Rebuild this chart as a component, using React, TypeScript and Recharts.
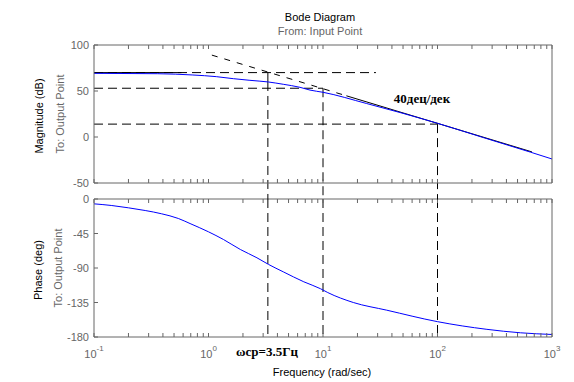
import { LineChart, Line, XAxis, YAxis, ReferenceLine } from "recharts";

// blue curves
const magFreq = [0.1, 0.36, 0.73, 1.17, 1.65, 2.3, 3.33, 4.5, 6.3, 7.7, 10, 24, 47, 100, 251, 646, 1000];
const magDb = [69.2, 68.8, 67.4, 65.6, 63.4, 61.6, 59.8, 57.3, 54, 51, 48.6, 36.4, 26.6, 14.9, -0.6, -16.4, -23.9];

const phaseFreq = [0.1, 0.143, 0.2, 0.28, 0.39, 0.545, 0.69, 1, 1.35, 1.9, 2.65, 3.35, 4.5, 6.8, 9.5, 11, 18.4, 36, 100, 270, 530, 1000];
const phaseDeg = [-6.3, -8.5, -11.5, -15, -19.3, -25.4, -32, -42.8, -52.8, -65.9, -76.7, -85.4, -95, -108, -117, -122, -135, -145, -160, -170, -174.5, -176.7];

// axes
const decades = [0.1, 1, 10, 100, 1000];
const decadeExp = ["-1", "0", "1", "2", "3"];
const minorMult = [2, 3, 4, 5, 6, 7, 8, 9];
const magTicks = [-50, 0, 50, 100];
const phaseTicks = [-180, -135, -90, -45, 0];

// hand-drawn construction lines (data units)
const lowAsym = 70;
const crossFreq = 3.3;
const crossDb = 59.8;
const midLevel = 53;
const lowLevel = 14;
const slopeStart = { x: 1.07, y: 89 };
const slopeMid = { x: 16, y: 44.8 };
const slopeEnd = { x: 668, y: -16.2 };

const AXIS = "#666666";
const LABEL = "#666666";
const TICK = 4;
const SANS = "'Liberation Sans', Arial, sans-serif";
const SERIF = "'Liberation Serif', 'Times New Roman', serif";

const xTicks = decades.slice(0, 4).flatMap((d) => [d, ...minorMult.map((m) => d * m)]).concat([1000]);
const isDecade = (v: number) => decades.findIndex((d) => Math.abs(d - v) < 1e-9);

const magData = magFreq.map((f, i) => ({ f, v: magDb[i] }));
const phaseData = phaseFreq.map((f, i) => ({ f, v: phaseDeg[i] }));

const BottomTick = (props: any) => {
  const { x, y, payload, labels } = props;
  const i = isDecade(payload.value);
  return (
    <g>
      <line x1={x} y1={y} x2={x} y2={y - TICK} stroke={AXIS} />
      {labels && i >= 0 && (
        <text x={x} y={y + 20.5} textAnchor="middle" fontFamily={SANS} fontSize={11} fill={LABEL}>
          <tspan>10</tspan>
          <tspan fontSize={8} dy={-7}>{decadeExp[i]}</tspan>
        </text>
      )}
    </g>
  );
};

const TopTick = (props: any) => {
  const { x, y } = props;
  return <line x1={x} y1={y} x2={x} y2={y + TICK} stroke={AXIS} />;
};

const LeftTick = (props: any) => {
  const { x, y, payload } = props;
  return (
    <g>
      <line x1={x} y1={y} x2={x + TICK} y2={y} stroke={AXIS} />
      <text x={x - 5} y={y} textAnchor="end" dominantBaseline="central" fontFamily={SANS} fontSize={11} fill={LABEL}>
        {payload.value}
      </text>
    </g>
  );
};

const RightTick = (props: any) => {
  const { x, y } = props;
  return <line x1={x} y1={y} x2={x - TICK} y2={y} stroke={AXIS} />;
};

const XAXH = 20;
const YAXW = 40;

function Panel({
  data,
  domain,
  yTicks,
  top,
  bottom,
  labels,
  children,
}: {
  data: { f: number; v: number }[];
  domain: [number, number];
  yTicks: number[];
  top: number;
  bottom: number;
  labels: boolean;
  children?: any;
}) {
  return (
    <LineChart
      width={574}
      height={382}
      data={data}
      margin={{ top: top - XAXH, bottom: 382 - bottom - XAXH, left: 94 - YAXW, right: 574 - 552 - 20 }}
      style={{ position: "absolute", left: 0, top: 0 }}
    >
      <XAxis
        xAxisId="x"
        dataKey="f"
        type="number"
        scale="log"
        domain={[0.1, 1000]}
        allowDataOverflow
        ticks={xTicks}
        interval={0}
        height={XAXH}
        tickSize={0}
        tickMargin={0}
        tickLine={false}
        axisLine={{ stroke: AXIS }}
        tick={(p: any) => <BottomTick {...p} labels={labels} />}
      />
      <XAxis
        xAxisId="xt"
        orientation="top"
        dataKey="f"
        type="number"
        scale="log"
        domain={[0.1, 1000]}
        allowDataOverflow
        ticks={xTicks}
        interval={0}
        height={XAXH}
        tickSize={0}
        tickMargin={0}
        tickLine={false}
        axisLine={{ stroke: AXIS }}
        tick={(p: any) => <TopTick {...p} />}
      />
      <YAxis
        yAxisId="y"
        type="number"
        domain={domain}
        ticks={yTicks}
        interval={0}
        width={YAXW}
        tickSize={0}
        tickMargin={0}
        tickLine={false}
        axisLine={{ stroke: AXIS }}
        tick={(p: any) => <LeftTick {...p} />}
      />
      <YAxis
        yAxisId="yr"
        orientation="right"
        type="number"
        domain={domain}
        ticks={yTicks}
        interval={0}
        width={20}
        tickSize={0}
        tickMargin={0}
        tickLine={false}
        axisLine={{ stroke: AXIS }}
        tick={(p: any) => <RightTick {...p} />}
      />
      {children}
      <Line
        xAxisId="x"
        yAxisId="y"
        dataKey="v"
        type="monotone"
        stroke="#0000ff"
        strokeWidth={1}
        dot={false}
        isAnimationActive={false}
      />
    </LineChart>
  );
}

const dash = "9 5";

const seg = (a: { x: number; y: number }, b: { x: number; y: number }, d?: string, key?: string) => (
  <ReferenceLine
    key={key}
    xAxisId="x"
    yAxisId="y"
    segment={[a, b]}
    stroke="#000"
    strokeWidth={1}
    strokeDasharray={d}
    ifOverflow="visible"
  />
);

export default function App() {
  return (
    <div style={{ position: "absolute", left: 0, top: 0, width: 574, height: 382, background: "#fff" }}>
      <Panel data={phaseData} domain={[-180, 0]} yTicks={phaseTicks} top={199} bottom={337} labels>
        {seg({ x: crossFreq, y: 0 }, { x: crossFreq, y: -180 }, dash, "p1")}
        {seg({ x: 10, y: 0 }, { x: 10, y: -180 }, dash, "p2")}
        {seg({ x: 100, y: 0 }, { x: 100, y: -180 }, dash, "p3")}
      </Panel>
      <Panel data={magData} domain={[-50, 100]} yTicks={magTicks} top={45} bottom={183} labels={false}>
        {seg({ x: 0.1, y: lowAsym }, { x: 0.58, y: lowAsym }, undefined, "m0")}
        {seg({ x: 0.1, y: lowAsym }, { x: 29, y: lowAsym }, dash, "m1")}
        {seg({ x: 0.1, y: midLevel }, { x: 10, y: midLevel }, dash, "m2")}
        {seg({ x: 0.1, y: lowLevel }, { x: 100, y: lowLevel }, dash, "m3")}
        {seg(slopeStart, slopeMid, "6 7", "m4")}
        {seg(slopeMid, slopeEnd, undefined, "m5")}
        {seg({ x: crossFreq, y: lowAsym }, { x: crossFreq, y: crossDb }, undefined, "m6")}
        {seg({ x: crossFreq, y: crossDb }, { x: crossFreq, y: -68 }, dash, "m7")}
        {seg({ x: 10, y: midLevel }, { x: 10, y: -68 }, dash, "m8")}
        {seg({ x: 100, y: lowLevel }, { x: 100, y: -68 }, dash, "m9")}
      </Panel>
      <svg width={574} height={382} style={{ position: "absolute", left: 0, top: 0, pointerEvents: "none" }}>
        <text x={320} y={17} textAnchor="middle" dominantBaseline="central" fontFamily={SANS} fontSize={11} fill="#000">
          Bode Diagram
        </text>
        <text x={320} y={31} textAnchor="middle" dominantBaseline="central" fontFamily={SANS} fontSize={11} fill={LABEL}>
          From: Input Point
        </text>
        <text x={322} y={372} textAnchor="middle" dominantBaseline="central" fontFamily={SANS} fontSize={11} fill="#000">
          Frequency (rad/sec)
        </text>
        <text transform="translate(39,116) rotate(-90)" textAnchor="middle" dominantBaseline="central" fontFamily={SANS} fontSize={11} fill="#000">
          Magnitude (dB)
        </text>
        <text transform="translate(60,114) rotate(-90)" textAnchor="middle" dominantBaseline="central" fontFamily={SANS} fontSize={11} fill={LABEL}>
          To: Output Point
        </text>
        <text transform="translate(38,270) rotate(-90)" textAnchor="middle" dominantBaseline="central" fontFamily={SANS} fontSize={11} fill="#000">
          Phase (deg)
        </text>
        <text transform="translate(58,268) rotate(-90)" textAnchor="middle" dominantBaseline="central" fontFamily={SANS} fontSize={11} fill={LABEL}>
          To: Output Point
        </text>
        <text x={422} y={98} textAnchor="middle" dominantBaseline="central" fontFamily={SERIF} fontWeight="bold" fontSize={13} fill="#000">
          40дец/дек
        </text>
        <text x={267} y={351} textAnchor="middle" dominantBaseline="central" fontFamily={SERIF} fontWeight="bold" fontSize={13} fill="#000">
          ωср=3.5Гц
        </text>
      </svg>
    </div>
  );
}
